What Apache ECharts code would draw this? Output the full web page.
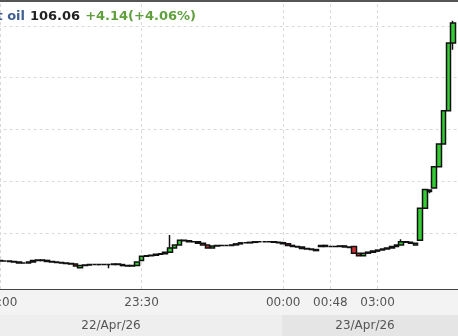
<!DOCTYPE html>
<html><head><meta charset="utf-8">
<script src="https://cdn.jsdelivr.net/npm/echarts@6/dist/echarts.min.js"></script>
<style>html,body{margin:0;padding:0;background:#fff}#c{width:458px;height:336px}</style>
</head><body><div id="c"></div>
<script>
// ---- data ----
const instrument = 'Brent oil';
const lastPrice = '106.06';
const changeText = '+4.14(+4.06%)';
const tickIndex = [0, 30, 60, 70, 80];
const tickLabels = ['23:00', '23:30', '00:00', '00:48', '03:00'];
const gridPrices = [102, 103, 104, 105, 106];
const dateLabels = ['22/Apr/26', '23/Apr/26'];
const slotCount = 98;
const opens = [101.47,101.46,101.46,101.45,101.44,101.42,101.42,101.44,101.47,101.48,
101.47,101.45,101.44,101.43,101.42,101.41,101.40,101.33,101.37,101.38,
101.39,101.39,101.39,101.39,101.39,101.40,101.39,101.37,101.36,101.37,
101.47,101.55,101.56,101.57,101.59,101.60,101.63,101.71,101.77,101.86,
101.85,101.83,101.83,101.80,101.77,101.71,101.75,101.76,101.76,101.76,
101.77,101.79,101.81,101.81,101.82,101.83,101.83,101.83,101.83,101.82,
101.81,101.79,101.76,101.74,101.73,101.70,101.69,101.68,101.74,101.76,
101.74,101.74,101.74,101.75,101.73,101.74,101.61,101.56,101.61,101.63,
101.65,101.67,101.69,101.71,101.74,101.77,101.83,101.82,101.77,101.86,
102.48,102.83,102.87,103.28,103.72,104.36,105.67];
const closes = [101.46,101.46,101.45,101.44,101.42,101.42,101.44,101.47,101.48,101.47,
101.45,101.44,101.43,101.42,101.41,101.40,101.36,101.37,101.38,101.39,
101.39,101.39,101.39,101.39,101.40,101.39,101.37,101.36,101.37,101.44,
101.55,101.56,101.57,101.59,101.60,101.63,101.71,101.77,101.86,101.85,
101.83,101.83,101.80,101.77,101.71,101.75,101.76,101.76,101.76,101.77,
101.79,101.81,101.81,101.82,101.83,101.83,101.83,101.83,101.82,101.81,
101.79,101.76,101.74,101.73,101.70,101.69,101.68,101.66,101.76,101.74,
101.74,101.74,101.75,101.73,101.72,101.61,101.56,101.61,101.63,101.65,
101.67,101.69,101.71,101.74,101.77,101.83,101.82,101.80,101.80,102.48,
102.84,102.80,103.28,103.72,104.36,105.67,106.06];
const lows = [101.45,101.45,101.44,101.43,101.41,101.41,101.42,101.44,101.46,101.46,
101.45,101.43,101.42,101.41,101.40,101.39,101.35,101.32,101.36,101.38,
101.38,101.37,101.38,101.32,101.39,101.38,101.37,101.35,101.36,101.37,
101.47,101.54,101.56,101.57,101.59,101.60,101.63,101.70,101.77,101.84,
101.82,101.82,101.79,101.76,101.70,101.71,101.75,101.75,101.75,101.76,
101.77,101.79,101.80,101.81,101.82,101.82,101.82,101.82,101.81,101.80,
101.78,101.75,101.74,101.72,101.70,101.68,101.68,101.66,101.73,101.74,
101.73,101.73,101.74,101.73,101.72,101.60,101.55,101.56,101.61,101.63,
101.65,101.67,101.69,101.71,101.74,101.76,101.81,101.79,101.76,101.86,
102.47,102.77,102.86,103.27,103.71,104.35,105.54];
const highs = [101.48,101.47,101.46,101.45,101.44,101.43,101.45,101.47,101.49,101.48,
101.47,101.45,101.44,101.43,101.42,101.41,101.40,101.37,101.38,101.40,
101.40,101.40,101.40,101.40,101.41,101.40,101.39,101.37,101.38,101.44,
101.56,101.57,101.58,101.60,101.61,101.64,101.96,101.77,101.87,101.86,
101.85,101.84,101.83,101.80,101.77,101.76,101.77,101.77,101.77,101.78,
101.79,101.81,101.82,101.82,101.83,101.83,101.84,101.83,101.83,101.82,
101.83,101.79,101.76,101.74,101.73,101.70,101.69,101.68,101.76,101.76,
101.75,101.75,101.75,101.75,101.73,101.74,101.61,101.62,101.63,101.66,
101.67,101.70,101.72,101.74,101.77,101.88,101.83,101.82,101.81,102.48,
102.85,102.84,103.28,103.72,104.36,105.67,106.10];

// ---- build chart ----
const categories = Array.from({length: slotCount}, (_, i) => String(i));
const labelFor = i => { const k = tickIndex.indexOf(i); return k >= 0 ? tickLabels[k] : ''; };
const candles = closes.map((c, i) => [opens[i], c, lows[i], highs[i]]);

const chart = echarts.init(document.getElementById('c'), null, {renderer: 'canvas'});
chart.setOption({
  animation: false,
  backgroundColor: '#ffffff',
  title: {
    left: -43, top: 3,
    text: '{a|' + instrument + '} {b|' + lastPrice + '} {c|' + changeText + '}',
    textStyle: {
      rich: {
        a: {fontFamily: 'DejaVu Sans', fontWeight: 'bold', fontSize: 13, color: '#3f5f8f'},
        b: {fontFamily: 'DejaVu Sans', fontWeight: 'bold', fontSize: 13, color: '#222222'},
        c: {fontFamily: 'DejaVu Sans', fontWeight: 'bold', fontSize: 13, color: '#5f9f3c'}
      }
    }
  },
  grid: {left: -2.36, right: -2.2, top: 0, bottom: 47, outerBoundsMode: 'none', containLabel: false},
  xAxis: {
    type: 'category', data: categories, boundaryGap: true,
    axisLine: {lineStyle: {color: '#444444', width: 1}},
    axisTick: {alignWithLabel: true, interval: i => tickIndex.includes(i), length: 4, lineStyle: {color: '#444444'}},
    axisLabel: {interval: i => tickIndex.includes(i), formatter: (v, i) => labelFor(i), color: '#555555',
      fontFamily: 'DejaVu Sans', fontSize: 12, margin: 8, hideOverlap: false},
    splitLine: {show: false}
  },
  yAxis: {
    type: 'value', min: 100.918, max: 106.502, scale: true,
    axisLine: {show: false}, axisTick: {show: false}, axisLabel: {show: false}, splitLine: {show: false}
  },
  graphic: [
    {type: 'rect', z: -1, shape: {x: 0, y: 290, width: 458, height: 25}, style: {fill: '#f3f3f3'}, silent: true},
    {type: 'rect', z: -1, shape: {x: 0, y: 315, width: 282, height: 21}, style: {fill: '#eeeeee'}, silent: true},
    {type: 'rect', z: -1, shape: {x: 282, y: 315, width: 176, height: 21}, style: {fill: '#e5e5e5'}, silent: true},
    {type: 'rect', z: 10, shape: {x: 0, y: 0, width: 458, height: 2}, style: {fill: '#555555'}, silent: true},
    {type: 'text', x: 111, y: 326, style: {text: dateLabels[0], fill: '#555555', font: '12px "DejaVu Sans"', align: 'center', verticalAlign: 'middle'}, silent: true},
    {type: 'text', x: 365, y: 326, style: {text: dateLabels[1], fill: '#555555', font: '12px "DejaVu Sans"', align: 'center', verticalAlign: 'middle'}, silent: true}
  ],
  series: [{
    type: 'candlestick', data: candles, barWidth: 5,
    itemStyle: {color: '#33cc33', color0: '#cc3333', borderColor: '#111111', borderColor0: '#111111', borderColorDoji: '#111111', borderWidth: 1.5},
    emphasis: {disabled: true},
    markLine: {
      silent: true, symbol: 'none', label: {show: false}, animation: false, z: 1,
      lineStyle: {color: '#d9d9d9', type: [3, 3], width: 1},
      emphasis: {disabled: true},
      data: gridPrices.map(v => ({yAxis: v})).concat(tickIndex.map(i => ({xAxis: i})))
    }
  }]
});
</script>
</body></html>
